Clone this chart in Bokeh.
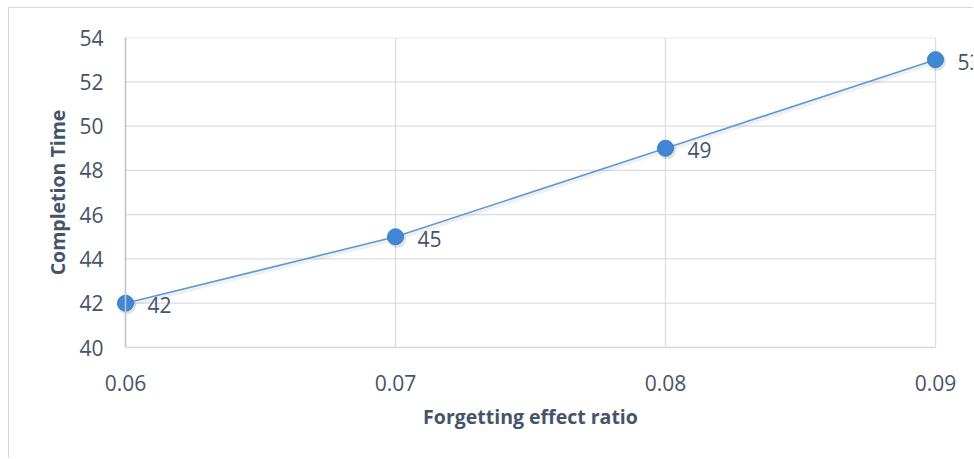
from bokeh.plotting import figure
from bokeh.models import (ColumnDataSource, LabelSet, FixedTicker, Span, LinearAxis,
                          NumeralTickFormatter, InlineStyleSheet)
from bokeh.core.properties import value
from bokeh.embed import file_html
from bokeh.resources import INLINE

# Data
ratios = [0.06, 0.07, 0.08, 0.09]
completion = [42, 45, 49, 53]
labels = ["42", "45", "49", "53"]
y_ticks = [40, 42, 44, 46, 48, 50, 52, 54]
x_title = "Forgetting effect ratio"
y_title = "Completion Time"

TEXT = "#44546A"
GRID = "#D9DEE6"
FONT = "Open Sans"

# room beyond the first/last category so markers and the last value label are not cut
px = 0.01 / 270
x_lo, x_hi = ratios[0], ratios[-1]
x_mid = (x_lo + x_hi) / 2

p = figure(width=965, height=451, output_backend="svg", toolbar_location=None,
           x_range=(x_lo - 10 * px, x_hi + 39 * px), y_range=(y_ticks[0], y_ticks[-1]),
           min_border_left=106, min_border_right=0, min_border_top=29,
           min_border_bottom=112, margin=(7, 0, 0, 8))
p.stylesheets = [InlineStyleSheet(css=":host { border-top: 1px solid #D9D9D9; border-left: 1px solid #D9D9D9; }")]
p.outline_line_color = None
p.background_fill_color = "white"
p.border_fill_color = "white"

# horizontal gridlines limited to the category span
p.segment(x0=[x_lo] * len(y_ticks), x1=[x_hi] * len(y_ticks), y0=y_ticks, y1=y_ticks,
          line_color=GRID, line_width=1.3)
p.ygrid.grid_line_color = None
p.xgrid.ticker = FixedTicker(ticks=ratios)
p.xgrid.grid_line_color = GRID
p.xgrid.grid_line_width = 1.3

# left axis line
p.add_layout(Span(location=x_lo, dimension="height", line_color="#BFC6D1", line_width=1.5))

# axes
p.xaxis.ticker = FixedTicker(ticks=ratios)
p.xaxis.formatter = NumeralTickFormatter(format="0.00")
p.xaxis.bounds = (x_lo, x_hi)
p.xaxis.axis_line_color = GRID
p.xaxis.axis_line_width = 1.3
p.yaxis.ticker = FixedTicker(ticks=y_ticks)
p.yaxis.axis_line_color = None
for ax in (p.xaxis[0], p.yaxis[0]):
    ax.major_tick_line_color = None
    ax.minor_tick_line_color = None
    ax.major_label_text_font = FONT
    ax.major_label_text_font_size = "21px"
    ax.major_label_text_color = TEXT
    ax.axis_label_text_font = FONT
    ax.axis_label_text_font_size = "19.5px"
    ax.axis_label_text_font_style = "bold"
    ax.axis_label_text_color = TEXT
p.yaxis.axis_label = y_title
p.xaxis.major_label_standoff = 21
p.yaxis.major_label_standoff = 6
p.yaxis.axis_label_standoff = 5

# x title centred under the category span (the frame runs a bit wider on the right)
title_axis = LinearAxis(ticker=FixedTicker(ticks=[x_mid]),
                        major_label_overrides={x_mid: x_title},
                        axis_line_color=None, major_tick_line_color=None,
                        minor_tick_line_color=None, major_tick_out=0, minor_tick_out=0,
                        major_label_standoff=9, major_label_text_font=FONT,
                        major_label_text_font_size="19.5px",
                        major_label_text_font_style="bold",
                        major_label_text_color=TEXT)
p.add_layout(title_axis, "below")

src = ColumnDataSource(dict(x=ratios, y=completion, label=labels))

# soft shadow under the series
sx = 1.5 * px
sy = 14 / 310 * 2.0
shadow = ColumnDataSource(dict(x=[v + sx for v in ratios], y=[v - sy for v in completion]))
p.line("x", "y", source=shadow, line_color="#000000", line_alpha=0.06, line_width=4)
p.scatter("x", "y", source=shadow, size=18, fill_color="#000000", fill_alpha=0.12, line_color=None)

p.line("x", "y", source=src, line_color="#5B9BD5", line_width=1.6)
p.scatter("x", "y", source=src, size=16, fill_color="#3F88D8", line_color="#3A7BC6",
          line_width=1)

p.add_layout(LabelSet(x="x", y="y", text="label", source=src, x_offset=22, y_offset=-2,
                      text_baseline="middle", text_font=value(FONT), text_font_size="21px",
                      text_color=TEXT))

open("out.html", "w").write(file_html(p, INLINE))
